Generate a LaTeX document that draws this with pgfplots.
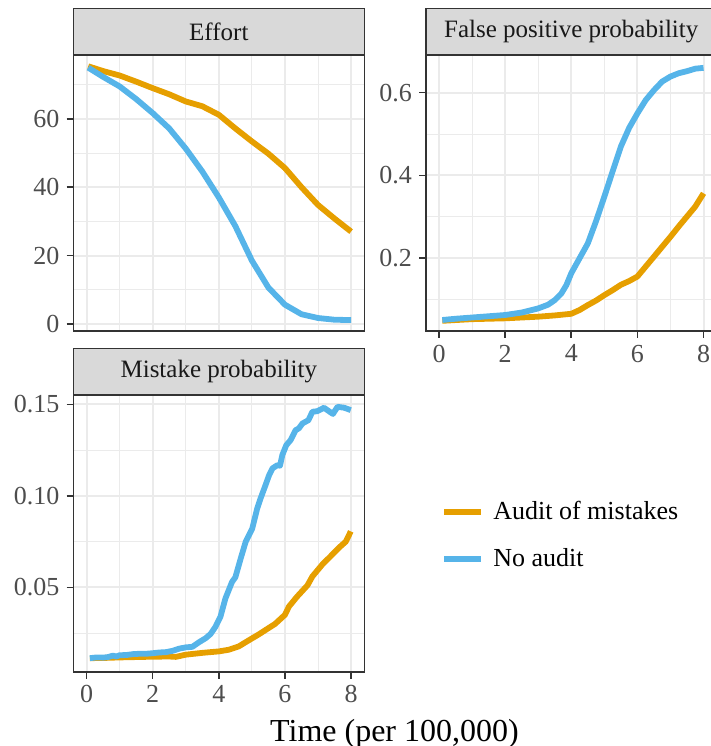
\documentclass[border=0pt]{standalone}
\usepackage{fontspec}
\setmainfont{Liberation Serif}
\usepackage{pgfplots}
\pgfplotsset{compat=1.18}
\definecolor{aud}{HTML}{E69F00}
\definecolor{noa}{HTML}{56B4E9}
\definecolor{gridc}{HTML}{EBEBEB}
\definecolor{stripc}{HTML}{D9D9D9}
\definecolor{bord}{HTML}{333333}
\definecolor{ticklab}{HTML}{4D4D4D}
\pgfplotsset{panel/.style={
  scale only axis, width=145.5pt, height=138pt,
  xmin=-0.4, xmax=8.4,
  xtick={0,2,4,6,8}, minor xtick={1,3,5,7},
  grid=both,
  major grid style={gridc, line width=1pt},
  minor grid style={gridc, line width=0.5pt},
  axis line style={bord, line width=0.8pt},
  tick style={bord, line width=0.8pt},
  tick align=outside, major tick length=3.4pt, minor tick length=0pt,
  xtick pos=left, ytick pos=left,
  tick label style={font=\fontsize{13}{15}\selectfont, text=ticklab},
  /pgf/number format/assume math mode=true,
  scaled y ticks=false,
  every axis title/.style={at={(axis description cs:0.5,1)}, anchor=south,
    fill=stripc, draw=bord, line width=0.8pt, minimum width=145.5pt,
    minimum height=23.3pt, inner sep=0pt, outer sep=0pt, text=black!90,
    font=\fontsize{12.5}{14}\selectfont},
  every axis plot/.append style={line width=2.9pt, line cap=butt, line join=round, mark=none},
}}
\begin{document}
\begin{tikzpicture}
% Panel 1: Effort
\begin{axis}[panel, at={(36.67pt,207.5pt)}, anchor=south west,
  title={Effort}, ymin=-2.1, ymax=78.7,
  ytick={0,20,40,60}, minor ytick={10,30,50,70},
  xticklabels={}, major x tick style={draw=none}]
\addplot[aud] coordinates {(0.05,75.4) (0.5,74.0) (1,72.7) (1.5,70.9) (2,69.0) (2.5,67.2) (3,65.1) (3.5,63.7) (4,61.2) (4.5,57.2) (5,53.4) (5.5,49.8) (6,45.6) (6.5,40.0) (7,34.8) (7.5,30.8) (8,27.0)};
\addplot[noa] coordinates {(0.05,75.0) (0.5,72.3) (1,69.5) (1.5,65.8) (2,61.7) (2.5,57.2) (3,51.3) (3.5,44.6) (4,37.0) (4.5,28.6) (5,18.5) (5.5,10.6) (6,5.6) (6.5,2.8) (7,1.7) (7.5,1.2) (8,1.1)};
\end{axis}
% Panel 2: False positive probability
\begin{axis}[panel, at={(212.9pt,207.5pt)}, anchor=south west,
  title={False positive probability}, ymin=0.0244, ymax=0.691,
  ytick={0.2,0.4,0.6}, minor ytick={0.1,0.3,0.5},
  yticklabel style={/pgf/number format/.cd, fixed, fixed zerofill, precision=1}]
\addplot[aud] coordinates {(0.1,0.049) (1,0.053) (2,0.055) (3,0.059) (3.5,0.062) (4,0.066) (4.25,0.075) (4.5,0.087) (4.75,0.098) (5,0.111) (5.25,0.123) (5.5,0.136) (5.75,0.145) (6,0.156) (6.25,0.180) (6.5,0.204) (6.75,0.228) (7,0.252) (7.25,0.277) (7.5,0.301) (7.75,0.325) (8,0.357)};
\addplot[noa] coordinates {(0.1,0.051) (0.5,0.054) (1,0.057) (1.5,0.060) (2,0.063) (2.5,0.069) (3,0.079) (3.3,0.088) (3.5,0.099) (3.7,0.115) (3.85,0.135) (4,0.164) (4.25,0.200) (4.5,0.236) (4.75,0.290) (5,0.349) (5.25,0.410) (5.5,0.470) (5.75,0.515) (6,0.550) (6.25,0.582) (6.5,0.606) (6.75,0.627) (7,0.639) (7.25,0.647) (7.5,0.652) (7.75,0.658) (8,0.660)};
\end{axis}
% Panel 3: Mistake probability
\begin{axis}[panel, at={(36.67pt,37.15pt)}, anchor=south west, height=138.3pt,
  title={Mistake probability}, ymin=0.0039, ymax=0.1551,
  ytick={0.05,0.10,0.15}, minor ytick={0.025,0.075,0.125},
  yticklabel style={/pgf/number format/.cd, fixed, fixed zerofill, precision=2},
  legend style={at={(axis description cs:1.264,0.492)}, anchor=west, draw=none, fill=none,
    font=\fontsize{13}{15}\selectfont, row sep=9pt, inner sep=0pt,
    /tikz/every odd column/.append style={column sep=2.5pt}},
  legend cell align=left,
  legend image code/.code={\draw[#1, line width=2.9pt, line cap=butt] (0pt,0pt) -- (18.5pt,0pt);}]
\addplot[aud] coordinates {(0.1,0.0113) (0.5,0.0114) (1.0,0.0117) (1.5,0.0119) (2.0,0.0121) (2.5,0.0122) (2.7,0.0120) (3.0,0.0132) (3.5,0.0142) (4.0,0.0150) (4.3,0.0159) (4.6,0.0177) (4.9,0.0210) (5.2,0.0242) (5.5,0.0277) (5.7,0.0300) (6.0,0.0350) (6.12,0.0395) (6.37,0.0450) (6.68,0.0511) (6.83,0.0560) (7.13,0.0625) (7.38,0.0670) (7.64,0.0718) (7.84,0.0750) (7.99,0.0806)};
\addlegendentry{Audit of mistakes}
\addplot[noa] coordinates {(0.1,0.0113) (0.3,0.0117) (0.5,0.0116) (0.65,0.0119) (0.8,0.0127) (0.9,0.0122) (1.0,0.0129) (1.2,0.0130) (1.4,0.0135) (1.6,0.0137) (1.8,0.0137) (2.0,0.0140) (2.2,0.0144) (2.4,0.0146) (2.6,0.0153) (2.8,0.0165) (3.0,0.0172) (3.2,0.0175) (3.4,0.0200) (3.6,0.0222) (3.75,0.0245) (3.9,0.0285) (4.05,0.0340) (4.2,0.0440) (4.4,0.0530) (4.5,0.0555) (4.66,0.0657) (4.81,0.0748) (4.91,0.0785) (5.01,0.0821) (5.16,0.0931) (5.26,0.0985) (5.41,0.1058) (5.52,0.1113) (5.62,0.1150) (5.77,0.1168) (5.85,0.1165) (5.92,0.1223) (6.04,0.1277) (6.17,0.1305) (6.32,0.1359) (6.42,0.1369) (6.53,0.1396) (6.71,0.1414) (6.83,0.1460) (6.98,0.1463) (7.18,0.1482) (7.33,0.1463) (7.45,0.1448) (7.59,0.1487) (7.79,0.1482) (7.99,0.1469)};
\addlegendentry{No audit}
\end{axis}
\node[font=\fontsize{16}{19}\selectfont, anchor=base] at (197.25pt,2.15pt) {Time (per 100,000)};
\pgfresetboundingbox
\useasboundingbox (0pt,0pt) rectangle (355.5pt,373pt);
\end{tikzpicture}
\end{document}
